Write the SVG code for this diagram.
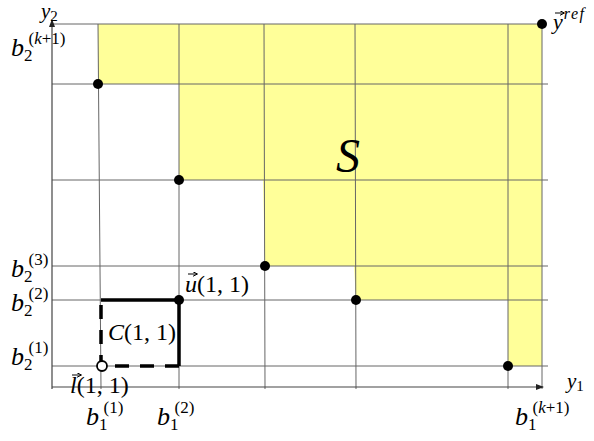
<svg xmlns="http://www.w3.org/2000/svg" width="594" height="441" viewBox="0 0 594 441">
<style>
.grid{stroke:#666;stroke-width:1;fill:none}
.axis{stroke:#444;stroke-width:1.2;fill:none}
.m{font-family:"Liberation Serif","DejaVu Serif",serif;fill:#000}
.i{font-style:italic}
.lab{font-size:24px}
.bb{font-size:26px;font-style:italic}
.sm{font-size:17px}
.dot{fill:#000}
.box{stroke:#000;stroke-width:3.5;fill:none}
.dash{stroke-dasharray:14,11}
</style>
<defs>
<marker id="ah" markerWidth="8" markerHeight="6" refX="7" refY="3" orient="auto" markerUnits="userSpaceOnUse">
<path d="M0,0 L8,3 L0,6 Z" fill="#222"/>
</marker>
<marker id="va" markerWidth="5" markerHeight="5" refX="4.5" refY="2.5" orient="auto" markerUnits="userSpaceOnUse">
<path d="M0,0 L5,2.5 L0,5" fill="none" stroke="#000" stroke-width="1"/>
</marker>
</defs>
<rect width="594" height="441" fill="#fff"/>
<g id="region-S">
<polygon points="98,24 542,24 542,366 508,366 508,300 356,300 354,266 265,266 263,180 179,180 179,84 98,84" fill="#ffff99"/>
</g>
<g id="connectors">
<line class="grid" x1="52" y1="24" x2="542" y2="24"/>
<line class="grid" x1="52" y1="84" x2="548" y2="84"/>
<line class="grid" x1="52" y1="180" x2="548" y2="180"/>
<line class="grid" x1="52" y1="266" x2="548" y2="266"/>
<line class="grid" x1="52" y1="300" x2="548" y2="300"/>
<line class="grid" x1="52" y1="366" x2="548" y2="366"/>
<line class="grid" x1="98" y1="24" x2="101" y2="389"/>
<line class="grid" x1="179" y1="24" x2="179" y2="389"/>
<line class="grid" x1="264" y1="24" x2="265" y2="389"/>
<line class="grid" x1="355" y1="24" x2="356" y2="389"/>
<line class="grid" x1="508" y1="24" x2="508" y2="389"/>
<line class="grid" x1="542" y1="24" x2="542" y2="389"/>
<line class="axis" x1="52" y1="389" x2="52" y2="20" marker-end="url(#ah)"/>
<line class="axis" x1="52" y1="387" x2="543" y2="387" marker-end="url(#ah)"/>
</g>
<g id="cell-C11">
<polyline class="box" points="101,300 179,300 179,366"/>
<polyline class="box dash" points="179,366 101,366 101,300"/>
<text class="m lab" x="108" y="340"><tspan class="i">C</tspan>(1, 1)</text>
</g>
<g id="points">
<circle class="dot" cx="98" cy="84" r="5"/>
<circle class="dot" cx="179" cy="180" r="5"/>
<circle class="dot" cx="265" cy="266" r="5"/>
<circle class="dot" cx="356" cy="300" r="5"/>
<circle class="dot" cx="508" cy="366" r="5"/>
<circle class="dot" cx="542" cy="24" r="5"/>
<circle class="dot" cx="179" cy="300" r="5"/>
<circle cx="102" cy="366" r="5" fill="#fff" stroke="#000" stroke-width="1.8"/>
</g>
<g id="labels">
<text class="m i" x="41" y="18" font-size="21">y<tspan font-style="normal" font-size="15" dy="3">2</tspan></text>
<text class="m" x="11" y="56"><tspan class="bb">b</tspan><tspan class="sm" dy="5">2</tspan><tspan class="sm" dx="-4" dy="-17">(<tspan class="i">k</tspan>+1)</tspan></text>
<text class="m" x="11" y="277"><tspan class="bb">b</tspan><tspan class="sm" dy="5">2</tspan><tspan class="sm" dx="-4" dy="-17">(3)</tspan></text>
<text class="m" x="11" y="311"><tspan class="bb">b</tspan><tspan class="sm" dy="5">2</tspan><tspan class="sm" dx="-4" dy="-17">(2)</tspan></text>
<text class="m" x="11" y="365"><tspan class="bb">b</tspan><tspan class="sm" dy="5">2</tspan><tspan class="sm" dx="-4" dy="-17">(1)</tspan></text>
<text class="m" x="86" y="425"><tspan class="bb">b</tspan><tspan class="sm" dy="5">1</tspan><tspan class="sm" dx="-4" dy="-17">(1)</tspan></text>
<text class="m" x="157" y="425"><tspan class="bb">b</tspan><tspan class="sm" dy="5">1</tspan><tspan class="sm" dx="-4" dy="-17">(2)</tspan></text>
<text class="m" x="515" y="425"><tspan class="bb">b</tspan><tspan class="sm" dy="5">1</tspan><tspan class="sm" dx="-4" dy="-17">(<tspan class="i">k</tspan>+1)</tspan></text>
<text class="m i" x="567" y="388" font-size="21">y<tspan font-style="normal" font-size="15" dy="3">1</tspan></text>
<text class="m i" x="336" y="172" font-size="48">S</text>
<text class="m lab" x="185" y="292"><tspan class="i">u</tspan>(1, 1)</text>
<line x1="188" y1="274" x2="197" y2="274" stroke="#000" stroke-width="1" marker-end="url(#va)"/>
<text class="m lab" x="70" y="393"><tspan class="i">l</tspan>(1, 1)</text>
<line x1="72" y1="375" x2="81" y2="375" stroke="#000" stroke-width="1" marker-end="url(#va)"/>
<text class="m i" x="553" y="29" font-size="22">y<tspan font-size="16" dy="-10" dx="1" letter-spacing="1.5">ref</tspan></text>
<line x1="555" y1="13" x2="564" y2="13" stroke="#000" stroke-width="1" marker-end="url(#va)"/>
</g>
</svg>
